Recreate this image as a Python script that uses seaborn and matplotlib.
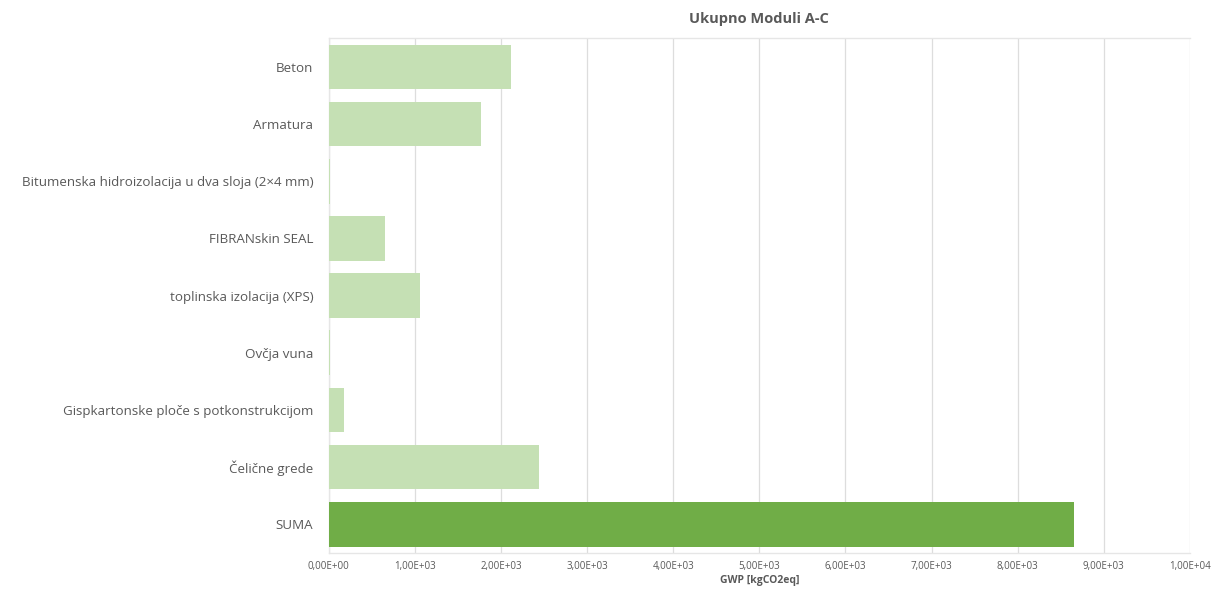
import matplotlib.pyplot as plt
import matplotlib.ticker as mticker
import seaborn as sns
import pandas as pd

########### DATA ##################################
materials = ['Beton', 'Armatura', 'Bitumenska hidroizolacija u dva sloja (2×4 mm)',
             'FIBRANskin SEAL', 'toplinska izolacija (XPS)', 'Ovčja vuna',
             'Gispkartonske ploče s potkonstrukcijom', 'Čelične grede', 'SUMA']
gwp = [2120, 1770, 15, 650, 1065, 20, 175, 2440, 8650]
bar_colors = ['#C5E0B4'] * 8 + ['#70AD47']
x_ticks = [0, 1000, 2000, 3000, 4000, 5000, 6000, 7000, 8000, 9000, 10000]

df = pd.DataFrame({'material': materials, 'gwp': gwp})

sns.set_style('white')
plt.rcParams['font.family'] = ['Open Sans', 'DejaVu Sans']
txt = '#595959'

fig, ax = plt.subplots(figsize=(12.13, 5.9), dpi=100)
sns.barplot(data=df, x='gwp', y='material', hue='material', palette=bar_colors,
            saturation=1, legend=False, width=0.78, edgecolor='none', ax=ax, zorder=3)

ax.set_xlim(0, 10000)
ax.set_xticks(x_ticks)

def sci_comma(v, pos):
    s = f'{v:.2E}'
    return s.replace('.', ',')

ax.xaxis.set_major_formatter(mticker.FuncFormatter(sci_comma))
ax.grid(axis='x', color='#DDDDDD', linewidth=0.9, zorder=0)
ax.tick_params(axis='x', labelsize=7, colors=txt, length=0, pad=6)
ax.tick_params(axis='y', labelsize=9.6, colors=txt, length=0, pad=11)
for s in ax.spines.values():
    s.set_color('#E6E6E6')
    s.set_linewidth(1)
ax.spines['right'].set_visible(False)

ax.set_ylabel('')
ax.set_xlabel('GWP [kgCO2eq]', fontsize=7.5, fontweight='bold', color=txt, labelpad=2)
ax.set_title('Ukupno Moduli A-C', fontsize=10.5, fontweight='bold', color=txt, pad=11)

plt.subplots_adjust(left=0.271, right=0.981, top=0.935, bottom=0.063)
plt.savefig('out.png', dpi=100)
